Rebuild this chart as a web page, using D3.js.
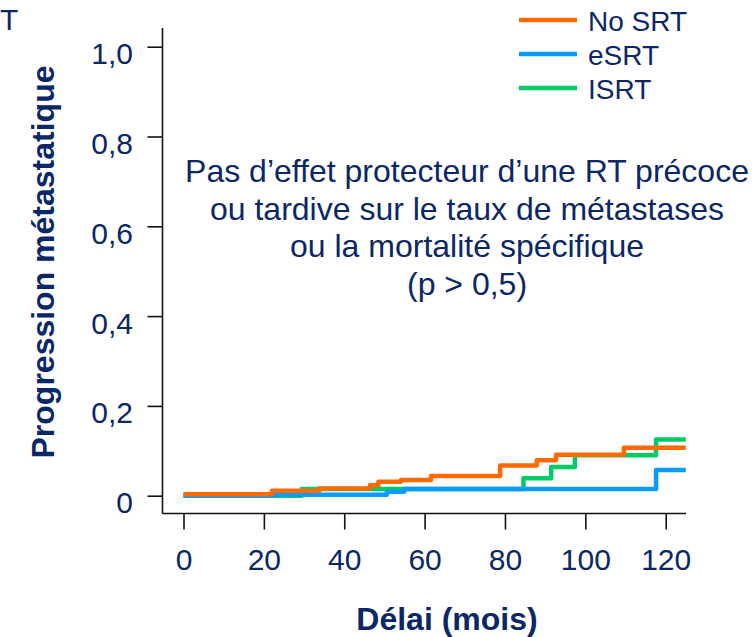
<!DOCTYPE html>
<html>
<head>
<meta charset="utf-8">
<script src="https://cdn.jsdelivr.net/npm/d3@7/dist/d3.min.js"></script>
<style>
  html, body { margin: 0; padding: 0; background: #ffffff; }
  svg { display: block; }
  text { font-family: "Liberation Sans", Arial, Helvetica, sans-serif; fill: #0b2766; }
</style>
</head>
<body>
<svg id="chart" width="755" height="637"></svg>
<script>
// ---- Data ----
const seriesNames = ["No SRT", "eSRT", "ISRT"];
const seriesColors = ["#ff6a00", "#0a9bff", "#00cc66"];

// step times (months) and cumulative values after each step
const noSrtTimes  = [0, 22.0, 33.8, 46.4, 48.5, 54.1, 61.6, 78.8, 87.9, 92.7, 109.6, 125];
const noSrtValues = [0.003, 0.011, 0.016, 0.023, 0.031, 0.035, 0.044, 0.067, 0.079, 0.091, 0.107, 0.107];

const eSrtTimes  = [0, 22.5, 50.6, 54.9, 117.6, 125];
const eSrtValues = [0.0, 0.002, 0.009, 0.015, 0.057, 0.057];

const lSrtTimes  = [0, 29.4, 84.6, 91.5, 97.4, 117.6, 125];
const lSrtValues = [0.0, 0.015, 0.039, 0.064, 0.090, 0.125, 0.125];

const xTicks = [0, 20, 40, 60, 80, 100, 120];
const yTicks = [0, 0.2, 0.4, 0.6, 0.8, 1.0];
const yTickLabels = ["0", "0,2", "0,4", "0,6", "0,8", "1,0"];

const xTitle = "Délai (mois)";
const yTitle = "Progression métastatique";
const noteLines = [
  "Pas d’effet protecteur d’une RT précoce",
  "ou tardive sur le taux de métastases",
  "ou la mortalité spécifique",
  "(p > 0,5)"
];
const cornerText = "T";

// ---- Layout ----
const svg = d3.select("#chart");
const x = d3.scaleLinear().domain([0, 120]).range([183.5, 665.7]);
const y = d3.scaleLinear().domain([0, 1]).range([495.7, 46.7]);
const axisColor = "#111";

// corner text (remnant of a clipped title in the reference)
svg.append("text").attr("x", 0).attr("y", 30).attr("text-anchor", "start")
  .style("font-size", "30px").text(cornerText);

// Y axis
svg.append("line").attr("x1", 162.5).attr("x2", 162.5).attr("y1", 28).attr("y2", 513.5)
  .attr("stroke", axisColor).attr("stroke-width", 1.6);
const yAxisG = svg.append("g").attr("transform", "translate(162.5,0)")
  .call(d3.axisLeft(y).tickValues(yTicks).tickSize(15).tickPadding(0)
    .tickFormat((d, i) => yTickLabels[i]));
yAxisG.select(".domain").remove();
yAxisG.selectAll(".tick line").attr("stroke", axisColor).attr("stroke-width", 1.6);
yAxisG.selectAll(".tick text")
  .attr("x", -29.5).attr("dy", null).attr("y", 17)
  .style("font-size", "30px").style("font-family", "Liberation Sans, Arial, sans-serif")
  .attr("fill", "#0b2766");

// X axis
svg.append("line").attr("x1", 162.5).attr("x2", 686).attr("y1", 513.5).attr("y2", 513.5)
  .attr("stroke", axisColor).attr("stroke-width", 1.6);
const xAxisG = svg.append("g").attr("transform", "translate(0,513.5)")
  .call(d3.axisBottom(x).tickValues(xTicks).tickSize(16).tickPadding(0));
xAxisG.select(".domain").remove();
xAxisG.selectAll(".tick line").attr("stroke", axisColor).attr("stroke-width", 1.6);
xAxisG.selectAll(".tick text")
  .attr("dy", null).attr("y", 56)
  .style("font-size", "30px").style("font-family", "Liberation Sans, Arial, sans-serif")
  .attr("fill", "#0b2766");

// Titles
svg.append("text").attr("x", 447).attr("y", 630).attr("text-anchor", "middle")
  .style("font-size", "32px").style("font-weight", "bold").text(xTitle);
svg.append("text").attr("transform", "translate(54,262) rotate(-90)")
  .attr("text-anchor", "middle")
  .style("font-size", "32px").style("font-weight", "bold").text(yTitle);

// Note text
svg.append("g").selectAll("text").data(noteLines).join("text")
  .attr("x", 467).attr("y", (d, i) => 182 + i * 37.5)
  .attr("text-anchor", "middle").style("font-size", "32px").text(d => d);

// Curves (drawn green, blue, orange so orange is on top)
const line = d3.line().x(d => x(d[0])).y(d => y(d[1])).curve(d3.curveStepAfter);
const curves = [
  { times: lSrtTimes, values: lSrtValues, color: seriesColors[2] },
  { times: eSrtTimes, values: eSrtValues, color: seriesColors[1] },
  { times: noSrtTimes, values: noSrtValues, color: seriesColors[0] }
];
curves.forEach(c => {
  const pts = c.times.map((t, i) => [t, c.values[i]]);
  svg.append("path").datum(pts).attr("d", line)
    .attr("fill", "none").attr("stroke", c.color).attr("stroke-width", 4.5)
    .attr("stroke-linejoin", "round").attr("stroke-linecap", "butt");
});

// Legend
const legendY = [20, 54, 88];
const legendG = svg.append("g");
seriesNames.forEach((name, i) => {
  legendG.append("line").attr("x1", 519).attr("x2", 577)
    .attr("y1", legendY[i]).attr("y2", legendY[i])
    .attr("stroke", seriesColors[i]).attr("stroke-width", 4.5);
  legendG.append("text").attr("x", 588).attr("y", legendY[i] + 11)
    .style("font-size", "28px").text(name);
});
</script>
</body>
</html>
